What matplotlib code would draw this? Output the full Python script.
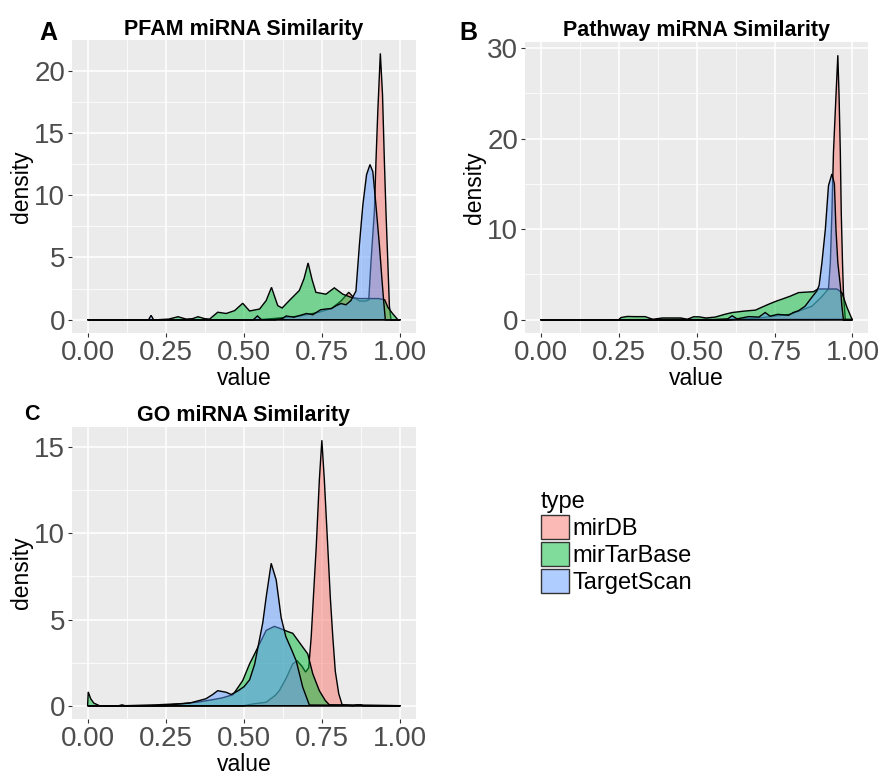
import matplotlib.pyplot as plt
from matplotlib.patches import Patch
from matplotlib.colors import to_rgba
from matplotlib.ticker import MultipleLocator

plt.rcParams['font.family'] = ['Liberation Sans', 'DejaVu Sans']

types = ['mirDB', 'mirTarBase', 'TargetScan']
colors = ['#F8766D', '#00BA38', '#619CFF']
xticks = [0.0, 0.25, 0.5, 0.75, 1.0]
xticklabels = ['0.00', '0.25', '0.50', '0.75', '1.00']

# ---- PFAM (panel A) density curves ----
pfam_mirdb_x = [0, 0.55, 0.62, 0.68, 0.74, 0.78, 0.81, 0.835, 0.85, 0.87, 0.89, 0.899, 0.906,
                0.917, 0.922, 0.928, 0.936, 0.943, 0.949, 0.954, 0.96, 0.965, 0.97, 1.0]
pfam_mirdb_y = [0, 0, 0.15, 0.3, 0.6, 0.9, 1.5, 2.2, 1.8, 1.5, 1.5, 1.6, 4.6,
                8.7, 12.7, 16.8, 21.4, 18.1, 12.7, 8.7, 4.6, 1.1, 0, 0]
pfam_tarbase_x = [0, 0.225, 0.26, 0.289, 0.315, 0.335, 0.353, 0.375, 0.39, 0.416, 0.443, 0.47,
                  0.496, 0.518, 0.55, 0.571, 0.588, 0.608, 0.622, 0.645, 0.677, 0.692, 0.705,
                  0.718, 0.73, 0.762, 0.789, 0.816, 0.848, 0.87, 0.9, 0.93, 0.95, 0.96, 0.975,
                  0.992, 1.0]
pfam_tarbase_y = [0, 0, 0.05, 0.24, 0.05, 0.08, 0.24, 0.08, 0.05, 0.6, 0.5, 0.73,
                  1.32, 0.7, 0.86, 1.54, 2.6, 1.13, 0.94, 1.54, 2.35, 3.3, 4.56,
                  3.2, 2.2, 2.05, 2.56, 2.05, 1.75, 1.7, 1.7, 1.7, 1.6, 1.0, 0.5,
                  0, 0]
pfam_tscan_x = [0, 0.195, 0.203, 0.211, 0.53, 0.543, 0.556, 0.6, 0.623, 0.635, 0.66, 0.7, 0.72,
                0.745, 0.763, 0.78, 0.795, 0.81, 0.826, 0.842, 0.858, 0.869, 0.88, 0.892,
                0.903, 0.912, 0.922, 0.933, 0.941, 0.947, 0.952, 1.0]
pfam_tscan_y = [0, 0, 0.35, 0, 0, 0.3, 0, 0, 0.1, 0.3, 0.2, 0.5, 0.4,
                0.8, 0.86, 0.9, 1.13, 1.3, 1.2, 1.54, 2.3, 6.0, 9.2, 11.66,
                12.47, 11.9, 9.2, 6.0, 3.3, 1.4, 0, 0]

# ---- Pathway (panel B) ----
path_mirdb_x = [0, 0.6, 0.7, 0.8, 0.87, 0.9, 0.923, 0.929, 0.934, 0.939, 0.947, 0.953, 0.957,
                0.961, 0.964, 0.968, 0.971, 0.977, 1.0]
path_mirdb_y = [0, 0, 0.2, 0.6, 1.5, 2.5, 3.4, 6.3, 11.8, 18.5, 24.7, 29.2, 24.7,
                18.5, 11.8, 6.3, 3.0, 0, 0]
path_tarbase_x = [0, 0.25, 0.258, 0.278, 0.3, 0.335, 0.36, 0.39, 0.42, 0.45, 0.47, 0.49, 0.508,
                  0.53, 0.56, 0.59, 0.614, 0.65, 0.689, 0.71, 0.732, 0.755, 0.774, 0.8, 0.827,
                  0.85, 0.875, 0.889, 0.92, 0.95, 0.966, 0.982, 0.998, 1.0]
path_tarbase_y = [0, 0, 0.25, 0.37, 0.35, 0.35, 0.05, 0.2, 0.2, 0.2, 0.05, 0.33, 0.33,
                  0.2, 0.3, 0.6, 0.8, 0.95, 1.07, 1.4, 1.73, 2.05, 2.28, 2.6, 3.0,
                  3.05, 3.1, 3.4, 3.4, 3.4, 3.0, 1.4, 0.1, 0.05]
path_tscan_x = [0, 0.55, 0.6, 0.614, 0.63, 0.667, 0.7, 0.72, 0.736, 0.76, 0.795, 0.81, 0.827,
                0.848, 0.87, 0.886, 0.893, 0.902, 0.913, 0.923, 0.934, 0.942, 0.947, 0.953,
                0.961, 0.966, 0.971, 1.0]
path_tscan_y = [0, 0, 0.1, 0.44, 0.1, 0.35, 0.3, 0.8, 0.4, 0.6, 0.5, 0.8, 1.0,
                1.5, 2.5, 3.2, 3.8, 6.3, 10.0, 14.8, 16.1, 15.0, 10.0, 6.3,
                3.8, 1.5, 0, 0]

# ---- GO (panel C) ----
go_mirdb_x = [0, 0.5, 0.528, 0.55, 0.571, 0.6, 0.613, 0.635, 0.656, 0.67, 0.685, 0.697, 0.707,
              0.715, 0.722, 0.731, 0.741, 0.749, 0.757, 0.768, 0.776, 0.784, 0.792, 0.803,
              0.814, 0.85, 0.86, 0.875, 0.88, 1.0]
go_mirdb_y = [0, 0, 0.1, 0.15, 0.2, 0.6, 0.87, 1.6, 2.43, 2.6, 2.3, 1.95, 2.2,
              4.0, 6.3, 9.2, 13.1, 15.4, 13.1, 9.2, 6.3, 4.0, 2.0, 0.7,
              0.05, 0, 0.05, 0.05, 0, 0]
go_tarbase_x = [0, 0.002, 0.01, 0.02, 0.038, 0.1, 0.11, 0.12, 0.22, 0.3, 0.35, 0.4, 0.43,
                0.465, 0.496, 0.518, 0.534, 0.55, 0.571, 0.597, 0.613, 0.64, 0.656, 0.68,
                0.704, 0.72, 0.741, 0.76, 0.773, 1.0]
go_tarbase_y = [0, 0.8, 0.4, 0.15, 0, 0, 0.05, 0, 0.05, 0.12, 0.2, 0.35, 0.45,
                0.64, 1.46, 2.43, 3.0, 3.6, 4.37, 4.6, 4.5, 4.3, 4.2, 3.6,
                3.0, 1.85, 0.87, 0.3, 0.05, 0]
go_tscan_x = [0, 0.25, 0.262, 0.326, 0.378, 0.4, 0.416, 0.443, 0.459, 0.48, 0.5, 0.518, 0.534,
              0.547, 0.56, 0.571, 0.587, 0.603, 0.619, 0.634, 0.651, 0.667, 0.688, 0.709, 1.0]
go_tscan_y = [0, 0, 0.05, 0.15, 0.4, 0.65, 0.87, 0.78, 0.65, 0.85, 1.1, 1.5, 2.4,
              3.6, 4.8, 6.3, 8.26, 7.3, 5.1, 4.0, 3.3, 2.6, 1.07, 0.04, 0]


def draw_panel(ax, title, series, ylim, ymajor):
    ax.set_facecolor('#EBEBEB')
    for (xs, ys), c in zip(series, colors):
        ax.fill(xs, ys, facecolor=to_rgba(c, 0.5), edgecolor='black', linewidth=1.0)
    ax.set_xlim(-0.05, 1.05)
    ax.set_ylim(*ylim)
    ax.set_xticks(xticks)
    ax.set_xticklabels(xticklabels)
    ax.xaxis.set_minor_locator(MultipleLocator(0.125))
    ax.yaxis.set_major_locator(MultipleLocator(ymajor))
    ax.yaxis.set_minor_locator(MultipleLocator(ymajor / 2))
    ax.grid(which='major', color='white', linewidth=1.1)
    ax.grid(which='minor', color='white', linewidth=0.55)
    ax.set_axisbelow(True)
    for s in ax.spines.values():
        s.set_visible(False)
    ax.tick_params(which='major', length=3, width=0.8, color='#333333',
                   labelsize=20, labelcolor='#4D4D4D', pad=2)
    ax.tick_params(which='minor', length=0)
    ax.set_title(title, fontsize=15.5, fontweight='bold', pad=4)
    ax.set_xlabel('value', fontsize=16.5, labelpad=1)
    ax.set_ylabel('density', fontsize=16.5, labelpad=1)


fig = plt.figure(figsize=(8.83, 7.75), dpi=100)
axA = fig.add_axes([0.0815, 0.5703, 0.3896, 0.378])
axB = fig.add_axes([0.5946, 0.5703, 0.3885, 0.3755])
axC = fig.add_axes([0.0815, 0.0723, 0.3896, 0.3768])

draw_panel(axA, 'PFAM miRNA Similarity',
           [(pfam_mirdb_x, pfam_mirdb_y), (pfam_tarbase_x, pfam_tarbase_y), (pfam_tscan_x, pfam_tscan_y)],
           (-1.07, 22.47), 5)
draw_panel(axB, 'Pathway miRNA Similarity',
           [(path_mirdb_x, path_mirdb_y), (path_tarbase_x, path_tarbase_y), (path_tscan_x, path_tscan_y)],
           (-1.46, 30.66), 10)
draw_panel(axC, 'GO miRNA Similarity',
           [(go_mirdb_x, go_mirdb_y), (go_tarbase_x, go_tarbase_y), (go_tscan_x, go_tscan_y)],
           (-0.77, 16.17), 5)

fig.text(39 / 883, 1 - 40 / 775, 'A', fontsize=18, fontweight='bold', va='baseline')
fig.text(459 / 883, 1 - 40 / 775, 'B', fontsize=18, fontweight='bold', va='baseline')
fig.text(24 / 883, 1 - 420 / 775, 'C', fontsize=15.5, fontweight='bold', va='baseline')

handles = [Patch(facecolor=to_rgba(c, 0.5), edgecolor='#333333', linewidth=1) for c in colors]
leg = fig.legend(handles, types, title='type', loc='upper left',
                 bbox_to_anchor=(541 / 883, 1 - 491 / 775), frameon=False,
                 fontsize=17, title_fontsize=17, alignment='left',
                 handlelength=1.2, handleheight=1.2, handletextpad=0.15,
                 labelspacing=0.08, borderpad=0, borderaxespad=0)

fig.savefig('out.png', dpi=100)
